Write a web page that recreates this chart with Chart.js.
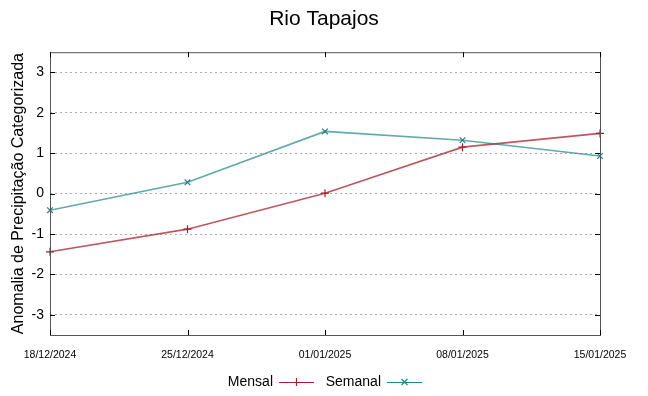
<!DOCTYPE html>
<html>
<head>
<meta charset="utf-8">
<script src="https://cdn.jsdelivr.net/npm/chart.js@4"></script>
<style>
  body { margin: 0; background: #fff; }
  #wrap { width: 648px; height: 396px; }
</style>
</head>
<body>
<div id="wrap"><canvas id="chart" width="648" height="396"></canvas></div>
<script>
const dates = ["18/12/2024", "25/12/2024", "01/01/2025", "08/01/2025", "15/01/2025"];
const mensal = [-1.44, -0.88, 0.01, 1.15, 1.49];
const semanal = [-0.41, 0.28, 1.54, 1.32, 0.93];
const yTicks = [-3, -2, -1, 0, 1, 2, 3];

const mensalColor = "#a3202a";
const semanalColor = "#1f8585";

// gnuplot style frame, inward ticks and legend (text before sample)
const framePlugin = {
  id: "frame",
  afterDraw(chart) {
    const { ctx, chartArea: a, scales } = chart;
    ctx.save();
    ctx.strokeStyle = "#555";
    ctx.lineWidth = 1;
    ctx.strokeRect(a.left + 0.5, a.top + 0.5, a.right - a.left, a.bottom - a.top);

    ctx.strokeStyle = "#000";
    yTicks.forEach(v => {
      const y = Math.round(scales.y.getPixelForValue(v)) + 0.5;
      ctx.beginPath();
      ctx.moveTo(a.left, y); ctx.lineTo(a.left + 5, y);
      ctx.moveTo(a.right, y); ctx.lineTo(a.right - 5, y);
      ctx.stroke();
    });
    dates.forEach((d, i) => {
      const x = Math.round(scales.x.getPixelForValue(i)) + 0.5;
      ctx.beginPath();
      ctx.moveTo(x, a.bottom); ctx.lineTo(x, a.bottom - 5);
      ctx.moveTo(x, a.top); ctx.lineTo(x, a.top + 5);
      ctx.stroke();
    });

    // legend
    const ly = 382;
    ctx.font = "14px 'Liberation Sans', Arial, sans-serif";
    ctx.textBaseline = "middle";
    ctx.textAlign = "right";
    const items = [
      { label: "Mensal", color: mensalColor, right: 273, style: "+" },
      { label: "Semanal", color: semanalColor, right: 381, style: "x" }
    ];
    items.forEach(it => {
      ctx.fillStyle = "#000";
      ctx.fillText(it.label, it.right, ly);
      const x0 = it.right + 6, x1 = it.right + 41, xm = (x0 + x1) / 2;
      ctx.strokeStyle = it.color;
      ctx.lineWidth = 1.2;
      ctx.beginPath();
      ctx.moveTo(x0, ly + 0.5); ctx.lineTo(x1, ly + 0.5);
      if (it.style === "+") {
        ctx.moveTo(xm, ly - 4); ctx.lineTo(xm, ly + 4);
      } else {
        ctx.moveTo(xm - 3, ly - 3); ctx.lineTo(xm + 3, ly + 3);
        ctx.moveTo(xm - 3, ly + 3); ctx.lineTo(xm + 3, ly - 3);
      }
      ctx.stroke();
    });
    ctx.restore();
  }
};

new Chart(document.getElementById("chart"), {
  type: "line",
  data: {
    labels: dates,
    datasets: [
      {
        label: "Mensal",
        data: mensal,
        borderColor: "rgba(175, 45, 55, 0.8)",
        backgroundColor: mensalColor,
        pointBorderColor: mensalColor,
        borderWidth: 1.6,
        pointStyle: "cross",
        pointRadius: 4,
        pointBorderWidth: 1.2,
        tension: 0
      },
      {
        label: "Semanal",
        data: semanal,
        borderColor: "rgba(45, 140, 140, 0.75)",
        backgroundColor: semanalColor,
        pointBorderColor: semanalColor,
        borderWidth: 1.6,
        pointStyle: "crossRot",
        pointRadius: 4,
        pointBorderWidth: 1.2,
        tension: 0
      }
    ]
  },
  options: {
    responsive: false,
    animation: false,
    layout: { padding: 0 },
    plugins: {
      legend: { display: false },
      tooltip: { enabled: false },
      title: {
        display: true,
        text: "Rio Tapajos",
        color: "#000",
        font: { family: "'Liberation Sans', Arial, sans-serif", size: 21, weight: "normal" },
        lineHeight: 1.2,
        padding: { top: 7, bottom: 20 }
      }
    },
    scales: {
      x: {
        type: "category",
        offset: false,
        grid: { display: false, drawTicks: false },
        border: { display: false },
        ticks: {
          color: "#000",
          padding: 14,
          maxRotation: 0,
          autoSkip: false,
          font: { family: "'Liberation Sans', Arial, sans-serif", size: 10.5 }
        },
        afterFit(scale) { scale.height = 61; }
      },
      y: {
        min: -3.5,
        max: 3.5,
        afterBuildTicks(scale) { scale.ticks = yTicks.map(v => ({ value: v })); },
        grid: {
          color: "#aaa",
          lineWidth: 1,
          drawTicks: false
        },
        border: { display: false, dash: [2, 3] },
        ticks: {
          color: "#000",
          padding: 6,
          font: { family: "'Liberation Sans', Arial, sans-serif", size: 14 }
        },
        title: {
          display: true,
          text: "Anomalia de Precipitação Categorizada",
          color: "#000",
          padding: { top: 9, bottom: 0 },
          font: { family: "'Liberation Sans', Arial, sans-serif", size: 16 }
        },
        afterFit(scale) { scale.width = 50; }
      },
      yRight: {
        position: "right",
        min: -3.5,
        max: 3.5,
        grid: { display: false, drawTicks: false },
        border: { display: false },
        ticks: { display: false },
        afterFit(scale) { scale.width = 48; }
      }
    }
  },
  plugins: [framePlugin]
});
</script>
</body>
</html>
